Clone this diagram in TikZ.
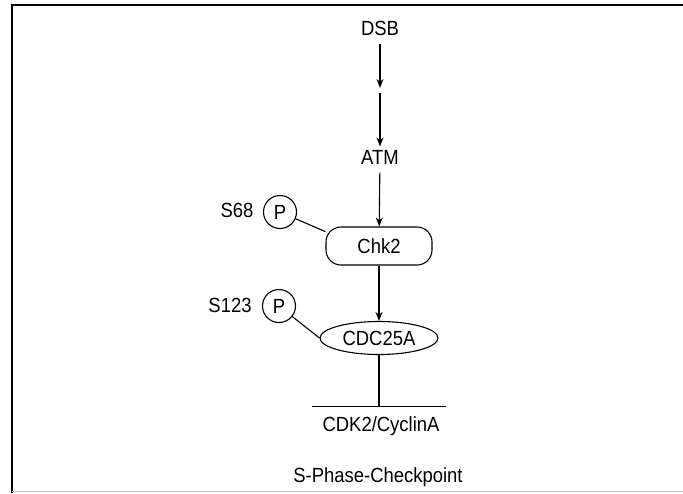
\documentclass[tikz,border=0pt]{standalone}
\usepackage{fontspec}
\setmainfont[FakeStretch=0.9]{Liberation Sans}
\usetikzlibrary{arrows.meta, shapes.geometric}

\begin{document}
\begin{tikzpicture}
  [
    x = 1pt, y = -1pt, line width = 1.1pt,
    every node/.style = {font = \fontsize{20.5}{24}\selectfont, inner sep = 3pt},
    act/.style = {-{Stealth[length=9pt, width=7pt]}},
    inh/.style = {-{Bar[width=134pt]}},
    phos/.style = {draw, circle, minimum size = 33pt, inner sep = 0pt},
    kinase/.style = {draw, rectangle, rounded corners = 15pt,
                     minimum width = 106pt, minimum height = 38pt},
    phosphatase/.style = {draw, ellipse, inner sep = 0pt,
                          minimum width = 118pt, minimum height = 33pt}
  ]
  \useasboundingbox (0,0) rectangle (683,493);
  % frame
  \draw (683,5) -- (12,5) -- (12,493);
  \draw[black!25, line width = 0.6pt] (12,491) -- (683,491);

  \node (DSB) at (380,28) {DSB};
  \coordinate (M1) at (380,88);
  \coordinate (M2) at (380,93);
  \node (ATM) at (380,157) {ATM};
  \node[kinase] (Chk2) at (379,246) {Chk2};
  \node[phosphatase] (CDC25A) at (379,338) {CDC25A};
  \coordinate (Bar) at (379,407);
  \node (CDK2) at (381,426) {CDK2/CyclinA};
  \node (Title) at (378,477) {S-Phase-Checkpoint};

  \node[phos] (P1) at (280,212) {P};
  \node (S68) at (237,210) {S68};
  \node[phos] (P2) at (279,306) {P};
  \node (S123) at (230,305) {S123};

  \draw[act, shorten <= 5pt] (DSB) -- (M1);
  \draw[act] (M2) -- (ATM);
  \draw[act, shorten <= 5pt] (ATM) -- (Chk2);
  \draw[act] (Chk2) -- (CDC25A);
  \draw[inh] (CDC25A) -- (Bar);
  \draw (P1) -- (Chk2.165);
  \draw (P2) -- (CDC25A.west);
\end{tikzpicture}
\end{document}
